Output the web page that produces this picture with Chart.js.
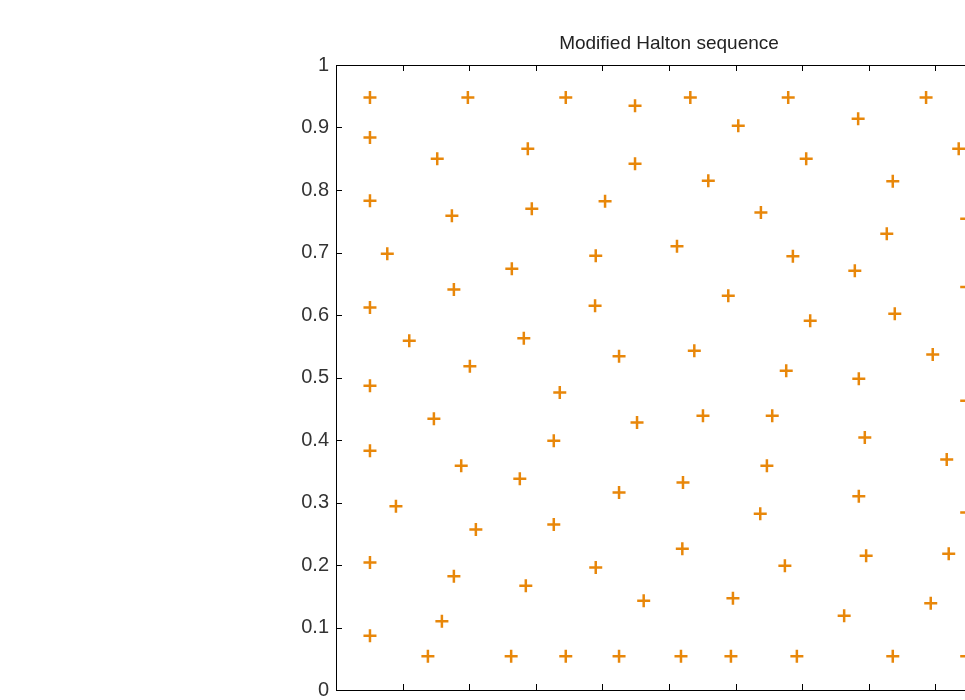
<!DOCTYPE html>
<html>
<head>
<meta charset="utf-8">
<script src="https://cdn.jsdelivr.net/npm/chart.js@4/dist/chart.umd.min.js"></script>
<style>
  html, body { margin: 0; padding: 0; background: #fff; overflow: hidden; }
  #wrap { position: relative; width: 1040px; height: 730px; }
</style>
</head>
<body>
<div id="wrap"><canvas id="haltonChart" width="1040" height="730"></canvas></div>
<script>
// points
var xValues = [
  0.051, 0.051, 0.051, 0.051, 0.051, 0.051, 0.051, 0.051, 0.077, 0.090,
  0.110, 0.138, 0.147, 0.152, 0.159, 0.174, 0.177, 0.177, 0.188, 0.198,
  0.201, 0.210, 0.263, 0.264, 0.276, 0.282, 0.285, 0.288, 0.294, 0.327,
  0.327, 0.336, 0.345, 0.345, 0.389, 0.390, 0.390, 0.404, 0.425, 0.425,
  0.425, 0.449, 0.449, 0.452, 0.462, 0.512, 0.518, 0.521, 0.520, 0.532,
  0.538, 0.551, 0.559, 0.589, 0.593, 0.596, 0.604, 0.637, 0.638, 0.647,
  0.655, 0.674, 0.676, 0.679, 0.686, 0.692, 0.706, 0.712, 0.763, 0.779,
  0.784, 0.785, 0.785, 0.794, 0.796, 0.827, 0.836, 0.836, 0.839, 0.886,
  0.893, 0.896, 0.917, 0.920, 0.935, 0.947, 0.947, 0.947, 0.947, 0.947
];
var yValues = [
  0.948, 0.884, 0.783, 0.612, 0.487, 0.383, 0.204, 0.087, 0.698, 0.294,
  0.559, 0.054, 0.434, 0.850, 0.110, 0.759, 0.641, 0.182, 0.359, 0.948,
  0.518, 0.257, 0.054, 0.674, 0.338, 0.563, 0.167, 0.866, 0.770, 0.265,
  0.399, 0.476, 0.948, 0.054, 0.615, 0.196, 0.695, 0.782, 0.054, 0.534,
  0.316, 0.935, 0.842, 0.428, 0.143, 0.710, 0.054, 0.332, 0.226, 0.948,
  0.543, 0.439, 0.815, 0.631, 0.054, 0.147, 0.903, 0.282, 0.764, 0.359,
  0.439, 0.199, 0.511, 0.948, 0.694, 0.054, 0.850, 0.591, 0.119, 0.671,
  0.914, 0.310, 0.498, 0.404, 0.215, 0.730, 0.814, 0.054, 0.602, 0.948,
  0.139, 0.537, 0.369, 0.218, 0.866, 0.754, 0.645, 0.463, 0.284, 0.054
];
var tickValues = [0, 0.1, 0.2, 0.3, 0.4, 0.5, 0.6, 0.7, 0.8, 0.9, 1];
var chartTitle = 'Modified Halton sequence';

var points = xValues.map(function (x, i) { return { x: x, y: yValues[i] }; });

function fmt(v) {
  var r = Math.round(v * 10) / 10;
  return (r === 0 || r === 1) ? String(r) : r.toFixed(1);
}

// MATLAB style box with inward ticks and the title
var boxPlugin = {
  id: 'matlabBox',
  afterDraw: function (chart) {
    var c = chart.ctx, a = chart.chartArea;
    var xs = chart.scales.x, ys = chart.scales.y;
    c.save();
    c.strokeStyle = '#000';
    c.lineWidth = 1;
    c.strokeRect(a.left + 0.5, a.top + 0.5, a.right - a.left, a.bottom - a.top);
    c.beginPath();
    tickValues.forEach(function (t) {
      var px = Math.round(xs.getPixelForValue(t)) + 0.5;
      c.moveTo(px, a.bottom); c.lineTo(px, a.bottom - 6);
      c.moveTo(px, a.top); c.lineTo(px, a.top + 6);
      var py = Math.round(ys.getPixelForValue(t)) + 0.5;
      c.moveTo(a.left, py); c.lineTo(a.left + 6, py);
      c.moveTo(a.right, py); c.lineTo(a.right - 6, py);
    });
    c.stroke();
    c.fillStyle = '#222';
    c.font = '19px "Liberation Sans", Arial, sans-serif';
    c.textAlign = 'center';
    c.textBaseline = 'alphabetic';
    c.fillText(chartTitle, (a.left + a.right) / 2, a.top - 16);
    c.restore();
  }
};

document.addEventListener('DOMContentLoaded', function () {
  var ctx = document.getElementById('haltonChart').getContext('2d');
  new Chart(ctx, {
    type: 'scatter',
    data: {
      datasets: [{
        data: points,
        pointStyle: 'cross',
        pointRadius: 6.5,
        pointHoverRadius: 6.5,
        borderWidth: 2.5,
        borderColor: '#e8870a',
        backgroundColor: '#e8870a'
      }]
    },
    options: {
      responsive: false,
      animation: false,
      events: [],
      layout: { padding: { top: 65, right: 38, left: 0, bottom: 0 } },
      plugins: { legend: { display: false }, tooltip: { enabled: false } },
      scales: {
        x: {
          type: 'linear', min: 0, max: 1,
          afterBuildTicks: function (s) { s.ticks = tickValues.map(function (v) { return { value: v }; }); },
          afterFit: function (s) { s.height = 40; },
          grid: { display: false, tickLength: 0 },
          border: { display: false },
          ticks: {
            padding: 7, color: '#333',
            font: { family: '"Liberation Sans", Arial, sans-serif', size: 20 },
            callback: function (v) { return fmt(v); }
          }
        },
        y: {
          type: 'linear', min: 0, max: 1,
          afterBuildTicks: function (s) { s.ticks = tickValues.map(function (v) { return { value: v }; }); },
          afterFit: function (s) { s.width = 336; },
          grid: { display: false, tickLength: 0 },
          border: { display: false },
          ticks: {
            padding: 7, color: '#333',
            font: { family: '"Liberation Sans", Arial, sans-serif', size: 20 },
            callback: function (v) { return fmt(v); }
          }
        }
      }
    },
    plugins: [boxPlugin]
  });
});
</script>
</body>
</html>
